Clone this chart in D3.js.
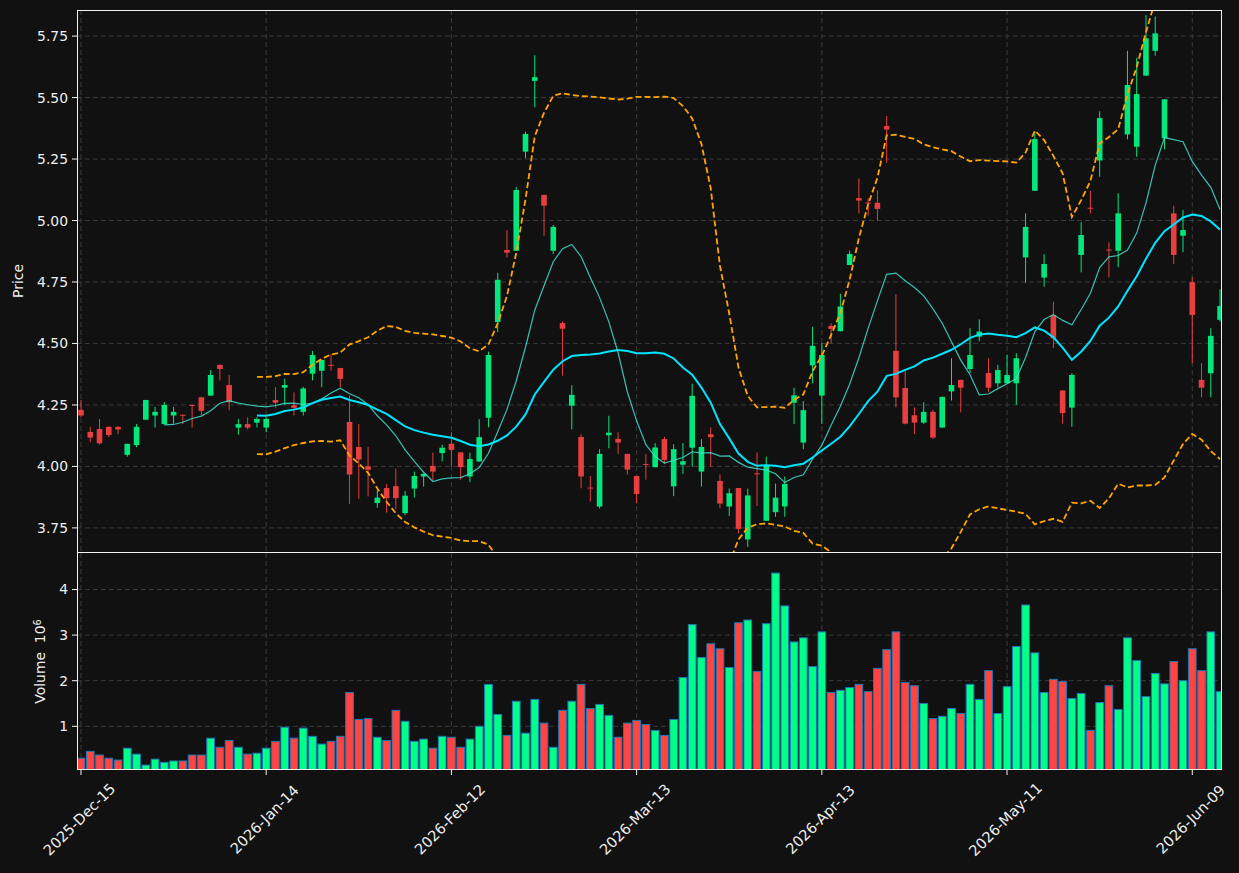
<!DOCTYPE html>
<html><head><meta charset="utf-8">
<script src="https://cdn.jsdelivr.net/npm/d3@7"></script>
<style>body{margin:0;background:#111111;} svg{display:block;} text{font-family:"DejaVu Sans",sans-serif;white-space:pre;}</style>
</head><body><svg id="c" width="1239" height="873"></svg>
<script>
const tickIdx = [0,20,40,60,80,100,120];
const tickLabels = ["2025-Dec-15","2026-Jan-14","2026-Feb-12","2026-Mar-13","2026-Apr-13","2026-May-11","2026-Jun-09"];
const priceTicks = [3.75,4.00,4.25,4.50,4.75,5.00,5.25,5.50,5.75];
const volTicks = [1,2,3,4];

const open = [
4.230,4.140,4.152,4.161,4.161,4.047,4.087,4.190,4.207,4.172,
4.207,4.210,4.250,4.281,4.288,4.413,4.331,4.158,4.172,4.178,
4.158,4.270,4.320,4.249,4.222,4.377,4.389,4.413,4.400,4.181,
4.079,4.000,3.851,3.912,3.920,3.810,3.910,3.959,4.002,4.054,
4.092,4.057,3.959,4.020,4.198,4.587,4.880,4.877,5.280,5.568,
5.104,4.877,4.583,4.247,4.120,3.914,3.837,4.127,4.112,4.051,
3.961,4.010,3.997,4.111,3.919,4.007,4.076,3.979,4.131,3.941,
3.837,3.912,3.703,3.972,3.779,3.814,3.837,4.259,4.097,4.411,
4.288,4.571,4.550,4.819,5.091,5.073,5.072,5.384,4.470,4.319,
4.208,4.178,4.222,4.158,4.305,4.352,4.396,4.528,4.380,4.338,
4.338,4.338,4.850,5.121,4.768,4.616,4.309,4.239,4.860,5.052,
5.244,4.882,4.877,5.350,5.300,5.589,5.690,5.334,5.029,4.938,
4.749,4.352,4.379,4.596];
const high = [
4.270,4.161,4.193,4.163,4.163,4.092,4.172,4.271,4.242,4.262,
4.242,4.211,4.251,4.283,4.392,4.414,4.372,4.192,4.200,4.200,
4.200,4.322,4.357,4.301,4.324,4.470,4.434,4.456,4.401,4.288,
4.172,4.080,3.902,3.928,3.991,3.900,3.979,3.971,4.056,4.088,
4.139,4.058,4.056,4.192,4.467,4.787,4.961,5.137,5.361,5.672,
5.105,4.982,4.589,4.330,4.131,3.961,4.070,4.206,4.139,4.052,
3.962,4.050,4.095,4.120,4.090,4.095,4.336,4.111,4.159,3.968,
3.910,3.913,3.910,4.057,4.040,3.930,3.959,4.320,4.266,4.568,
4.501,4.582,4.702,4.877,5.171,5.090,5.123,5.425,4.700,4.388,
4.240,4.261,4.230,4.283,4.440,4.353,4.562,4.598,4.440,4.413,
4.453,4.460,5.029,5.361,4.863,4.670,4.310,4.379,4.993,5.120,
5.444,4.911,5.111,5.690,5.662,5.835,5.829,5.494,5.060,5.043,
4.769,4.420,4.562,4.720];
const low = [
4.200,4.098,4.089,4.119,4.131,4.040,4.078,4.189,4.158,4.170,
4.174,4.172,4.158,4.209,4.287,4.350,4.228,4.129,4.150,4.158,
4.139,4.239,4.249,4.207,4.207,4.350,4.322,4.389,4.322,3.848,
3.868,3.878,3.832,3.812,3.827,3.801,3.873,3.918,3.943,4.020,
3.999,3.946,3.936,4.019,4.159,4.546,4.850,4.876,5.253,5.460,
4.938,4.864,4.369,4.150,3.911,3.857,3.829,4.074,4.050,3.967,
3.850,3.946,3.996,4.009,3.879,3.970,3.999,3.918,3.999,3.830,
3.798,3.728,3.672,3.839,3.778,3.795,3.795,4.172,4.070,4.338,
4.173,4.501,4.549,4.818,5.029,5.020,4.999,5.234,4.240,4.171,
4.131,4.173,4.111,4.157,4.268,4.220,4.379,4.509,4.302,4.322,
4.337,4.250,4.747,5.120,4.731,4.481,4.174,4.161,4.789,5.029,
5.178,4.769,4.810,5.330,5.259,5.588,5.670,5.289,4.823,4.871,
4.420,4.281,4.281,4.589];
const close = [
4.207,4.117,4.094,4.128,4.150,4.092,4.161,4.270,4.222,4.250,
4.222,4.206,4.246,4.226,4.372,4.396,4.261,4.172,4.158,4.193,
4.193,4.259,4.331,4.238,4.317,4.453,4.433,4.409,4.356,3.967,
4.028,3.986,3.873,3.871,3.871,3.881,3.961,3.970,3.979,4.076,
4.067,3.997,4.030,4.119,4.453,4.759,4.869,5.124,5.352,5.583,
5.060,4.974,4.560,4.291,3.959,3.910,4.051,4.137,4.097,3.987,
3.888,4.006,4.077,4.026,4.070,4.021,4.287,4.079,4.119,3.849,
3.891,3.746,3.882,3.968,4.006,3.873,3.929,4.289,4.229,4.490,
4.453,4.559,4.650,4.864,5.081,5.069,5.047,5.370,4.281,4.174,
4.178,4.222,4.117,4.283,4.331,4.320,4.453,4.548,4.320,4.392,
4.372,4.440,4.974,5.331,4.823,4.521,4.217,4.372,4.941,5.048,
5.417,4.878,5.029,5.551,5.514,5.741,5.761,5.493,4.860,4.961,
4.616,4.320,4.531,4.652];
const volume = [
0.30,0.45,0.37,0.30,0.26,0.52,0.39,0.15,0.28,0.21,
0.24,0.24,0.37,0.37,0.74,0.54,0.69,0.54,0.39,0.41,
0.52,0.67,0.98,0.74,0.96,0.78,0.61,0.67,0.78,1.74,
1.15,1.17,0.76,0.69,1.35,1.11,0.67,0.72,0.52,0.78,
0.76,0.54,0.72,1.00,1.92,1.26,0.80,1.55,0.85,1.59,
1.07,0.54,1.35,1.55,1.92,1.39,1.48,1.24,0.76,1.07,
1.13,1.04,0.91,0.80,1.15,2.07,3.23,2.51,2.81,2.70,
2.29,3.27,3.33,2.20,3.25,4.36,3.64,2.85,2.94,2.31,
3.07,1.74,1.79,1.85,1.92,1.76,2.27,2.68,3.07,1.96,
1.89,1.50,1.17,1.22,1.39,1.28,1.92,1.59,2.22,1.28,
1.87,2.75,3.66,2.61,1.74,2.03,1.98,1.61,1.72,0.91,
1.52,1.89,1.37,2.94,2.44,1.65,2.16,1.93,2.42,2.00,
2.70,2.22,3.07,1.76];

const UP = "#00ff88", DOWN = "#ff4444";
const svg = d3.select("#c");
const L = 77, R = 1222, pTop = 10, pBot = 552, vTop = 553, vBot = 770;
const x = d3.scaleLinear().domain([-0.43, 123.21]).range([L, R]);
const y = d3.scaleLinear().domain([3.652, 5.856]).range([pBot, pTop]);
const yv = d3.scaleLinear().domain([0.042, 4.80]).range([vBot, vTop]);
const N = close.length;
const idx = d3.range(N);

svg.append("rect").attr("width", 1239).attr("height", 873).attr("fill", "#111111");
const defs = svg.append("defs");
defs.append("clipPath").attr("id", "cp").append("rect").attr("x", L).attr("y", pTop).attr("width", R - L).attr("height", pBot - pTop);
defs.append("clipPath").attr("id", "cv").append("rect").attr("x", L).attr("y", vTop).attr("width", R - L).attr("height", vBot - vTop);

const gridCol = "#3a3a3a";
const gp = svg.append("g");
priceTicks.forEach(t => gp.append("line").attr("x1", L).attr("x2", R).attr("y1", y(t)).attr("y2", y(t)).attr("stroke", gridCol).attr("stroke-dasharray", "5,3"));
volTicks.forEach(t => gp.append("line").attr("x1", L).attr("x2", R).attr("y1", yv(t)).attr("y2", yv(t)).attr("stroke", gridCol).attr("stroke-dasharray", "5,3"));
tickIdx.forEach(t => {
  gp.append("line").attr("x1", x(t)).attr("x2", x(t)).attr("y1", pTop).attr("y2", pBot).attr("stroke", gridCol).attr("stroke-dasharray", "5,3");
  gp.append("line").attr("x1", x(t)).attr("x2", x(t)).attr("y1", vTop).attr("y2", vBot).attr("stroke", gridCol).attr("stroke-dasharray", "5,3");
});

// candles
const gc = svg.append("g").attr("clip-path", "url(#cp)").attr("opacity", 0.9);
const bw = 5.6;
idx.forEach(i => {
  const col = close[i] >= open[i] ? UP : DOWN;
  const cx = x(i);
  gc.append("line").attr("x1", cx).attr("x2", cx).attr("y1", y(high[i])).attr("y2", y(low[i])).attr("stroke", col).attr("stroke-width", 1);
  const top = y(Math.max(open[i], close[i])), bot = y(Math.min(open[i], close[i]));
  gc.append("rect").attr("x", cx - bw / 2).attr("y", top).attr("width", bw).attr("height", Math.max(1, bot - top)).attr("fill", col);
});

// moving averages and Bollinger bands (computed from the closes)
function sma(a, n) { return a.map((v, i) => i < n - 1 ? null : d3.mean(a.slice(i - n + 1, i + 1))); }
function pstd(a, n) { return a.map((v, i) => { if (i < n - 1) return null; const s = a.slice(i - n + 1, i + 1); const m = d3.mean(s); return Math.sqrt(d3.mean(s.map(q => (q - m) * (q - m)))); }); }
const ma10 = sma(close, 10), ma20 = sma(close, 20), sd20 = pstd(close, 20);
const upper = ma20.map((m, i) => m == null ? null : m + 2 * sd20[i]);
const lower = ma20.map((m, i) => m == null ? null : m - 2 * sd20[i]);
const line = d3.line().defined(d => d[1] != null).x(d => x(d[0])).y(d => y(d[1]));
const gl = svg.append("g").attr("clip-path", "url(#cp)");
gl.append("path").attr("d", line(idx.map(i => [i, ma10[i]]))).attr("fill", "none").attr("stroke", "#40e0d0").attr("stroke-opacity", 0.85).attr("stroke-width", 1.2);
gl.append("path").attr("d", line(idx.map(i => [i, ma20[i]]))).attr("fill", "none").attr("stroke", "#00e5ff").attr("stroke-width", 2);
[upper, lower].forEach(b => gl.append("path").attr("d", line(idx.map(i => [i, b[i]]))).attr("fill", "none").attr("stroke", "#ffa500").attr("stroke-width", 1.8).attr("stroke-dasharray", "6,3"));

// volume
const gv = svg.append("g").attr("clip-path", "url(#cv)");
const vw = 7.7;
idx.forEach(i => {
  const col = close[i] >= open[i] ? UP : DOWN;
  gv.append("rect").attr("x", x(i) - vw / 2).attr("y", yv(volume[i])).attr("width", vw).attr("height", yv(0.042) - yv(volume[i])).attr("fill", col).attr("stroke", "#1f77b4").attr("stroke-width", 1);
});

// frames
const frame = "#f2f2f2";
svg.append("rect").attr("x", L + 0.5).attr("y", pTop + 0.5).attr("width", R - L - 1).attr("height", 542).attr("fill", "none").attr("stroke", frame).attr("stroke-width", 1);
svg.append("rect").attr("x", L + 0.5).attr("y", 552.5).attr("width", R - L - 1).attr("height", 217).attr("fill", "none").attr("stroke", frame).attr("stroke-width", 1);

// axes text
const txtCol = "#eeeeee", fs = "13.9px";
const ga = svg.append("g");
priceTicks.forEach(t => {
  ga.append("line").attr("x1", L - 5).attr("x2", L).attr("y1", y(t)).attr("y2", y(t)).attr("stroke", frame);
  ga.append("text").attr("x", L - 9).attr("y", y(t)).attr("dy", "0.36em").attr("text-anchor", "end").attr("fill", txtCol).style("font-size", fs).text(d3.format(".2f")(t));
});
volTicks.forEach(t => {
  ga.append("line").attr("x1", L - 5).attr("x2", L).attr("y1", yv(t)).attr("y2", yv(t)).attr("stroke", frame);
  ga.append("text").attr("x", L - 9).attr("y", yv(t)).attr("dy", "0.36em").attr("text-anchor", "end").attr("fill", txtCol).style("font-size", fs).text(t);
});
tickIdx.forEach((t, k) => {
  ga.append("line").attr("x1", x(t)).attr("x2", x(t)).attr("y1", vBot).attr("y2", vBot + 5).attr("stroke", frame);
  ga.append("text").attr("transform", `translate(${x(t) + 2},823) rotate(-45)`).attr("text-anchor", "middle").attr("fill", txtCol).style("font-size", "14.6px").text(tickLabels[k]);
});
ga.append("text").attr("transform", `translate(23,${(pTop + pBot) / 2}) rotate(-90)`).attr("text-anchor", "middle").attr("fill", txtCol).style("font-size", fs).text("Price");
const vl = ga.append("text").attr("transform", `translate(45,${(vTop + vBot) / 2}) rotate(-90)`).attr("text-anchor", "middle").attr("fill", txtCol).style("font-size", fs);
vl.append("tspan").text("Volume  10");
vl.append("tspan").attr("dy", "-0.45em").style("font-size", "9.7px").text("6");
</script></body></html>
